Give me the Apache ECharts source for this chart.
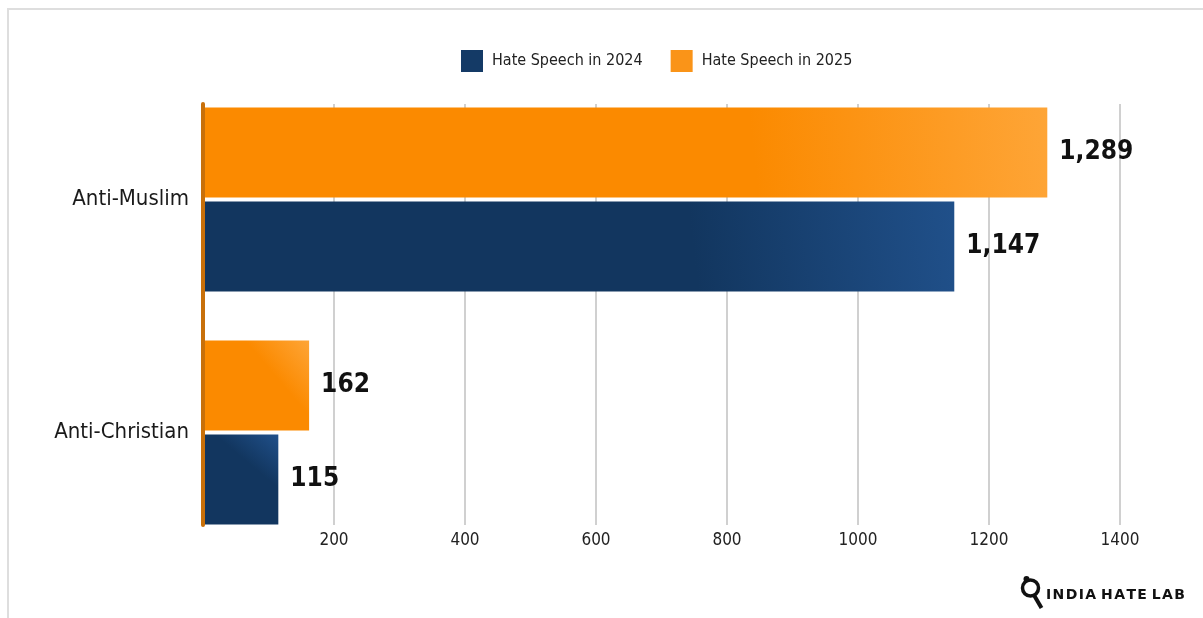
<!DOCTYPE html>
<html>
<head>
<meta charset="utf-8">
<script src="https://cdn.jsdelivr.net/npm/echarts@6/dist/echarts.min.js"></script>
<style>
html,body{margin:0;padding:0;background:#fff;}
#chart{width:1203px;height:618px;}
</style>
</head>
<body>
<div id="chart"></div>
<script>
// ---- data ----
const categories = ['Anti-Christian', 'Anti-Muslim'];
const seriesNames = ['Hate Speech in 2024', 'Hate Speech in 2025'];
const values2024 = [115, 1147];
const values2025 = [162, 1289];
const xTicks = [0, 200, 400, 600, 800, 1000, 1200, 1400];

const FONT = "'DejaVu Sans Condensed', 'Liberation Sans Narrow', sans-serif";
const BLUE = '#143a66', ORANGE = '#fa9418';

function grad(dark, light) {
  return new echarts.graphic.LinearGradient(0, 1, 1, 0, [
    { offset: 0, color: dark }, { offset: 0.65, color: dark }, { offset: 1, color: light }
  ]);
}

const chart = echarts.init(document.getElementById('chart'), null, { renderer: 'canvas' });
const xMin = xTicks[0], xMax = xTicks[xTicks.length - 1], xStep = xTicks[1] - xTicks[0];

const labelCfg = {
  show: true, position: 'right', distance: 12,
  fontFamily: FONT, fontSize: 26, fontWeight: 'bold', color: '#111',
  formatter: p => p.value.toLocaleString('en-US')
};

chart.setOption({
  backgroundColor: '#fff',
  animation: false,
  legend: {
    top: 45, left: 456, itemWidth: 22, itemHeight: 22, itemGap: 28,
    icon: 'rect',
    textStyle: { fontFamily: FONT, fontSize: 16, color: '#222', padding: [0, 0, 0, 4] },
    data: [
      { name: seriesNames[0], itemStyle: { color: BLUE } },
      { name: seriesNames[1], itemStyle: { color: ORANGE } }
    ]
  },
  grid: [
    { left: 203, right: 83, top: 83, height: 466 },
    { left: 203, right: 83, top: 104, height: 421 }
  ],
  xAxis: [
    { gridIndex: 0, type: 'value', min: xMin, max: xMax, interval: xStep, show: false, splitLine: { show: false } },
    { gridIndex: 1, type: 'value', min: xMin, max: xMax, interval: xStep,
      axisLine: { show: false }, axisTick: { show: false },
      axisLabel: { showMinLabel: false, margin: 7, fontFamily: FONT, fontSize: 17, color: '#222',
                   formatter: v => String(v) },
      splitLine: { show: true, lineStyle: { color: '#d0d0d0', width: 2 } } }
  ],
  yAxis: [
    { gridIndex: 0, type: 'category', data: categories,
      axisLine: { show: false }, axisTick: { show: false },
      axisLabel: { margin: 14, fontFamily: FONT, fontSize: 22, color: '#1a1a1a' } },
    { gridIndex: 1, type: 'value', min: 0, max: 1, z: 10,
      axisLine: { show: true, lineStyle: { color: '#c8700a', width: 4 } },
      axisTick: { show: false }, axisLabel: { show: false }, splitLine: { show: false } }
  ],
  series: [
    { name: seriesNames[1], type: 'bar', xAxisIndex: 0, yAxisIndex: 0, data: values2025,
      barWidth: 90, barGap: '4.5%',
      itemStyle: { color: grad('#fb8a00', '#fea537') }, label: labelCfg },
    { name: seriesNames[0], type: 'bar', xAxisIndex: 0, yAxisIndex: 0, data: values2024,
      barWidth: 90, barGap: '4.5%',
      itemStyle: { color: grad('#12365f', '#20508a') }, label: labelCfg }
  ],
  graphic: [
    { type: 'rect', shape: { x: 8, y: 9, width: 1300, height: 700 },
      style: { fill: 'none', stroke: '#dedede', lineWidth: 2 }, silent: true, z: -1 },
    { type: 'group', left: 1020, top: 576, children: [
      { type: 'circle', shape: { cx: 11, cy: 13, r: 8 }, style: { fill: 'none', stroke: '#111', lineWidth: 3.5 } },
      { type: 'circle', shape: { cx: 7, cy: 4, r: 3 }, style: { fill: '#111' } },
      { type: 'line', shape: { x1: 15, y1: 21, x2: 22, y2: 33 }, style: { stroke: '#111', lineWidth: 4 } }
    ]},
    { type: 'text', left: 1046, top: 588,
      style: { text: 'I\u200AN\u200AD\u200AI\u200AA H\u200AA\u200AT\u200AE L\u200AA\u200AB', font: "bold 14px 'DejaVu Sans', sans-serif", fill: '#111' } }
  ]
});
</script>
</body>
</html>
